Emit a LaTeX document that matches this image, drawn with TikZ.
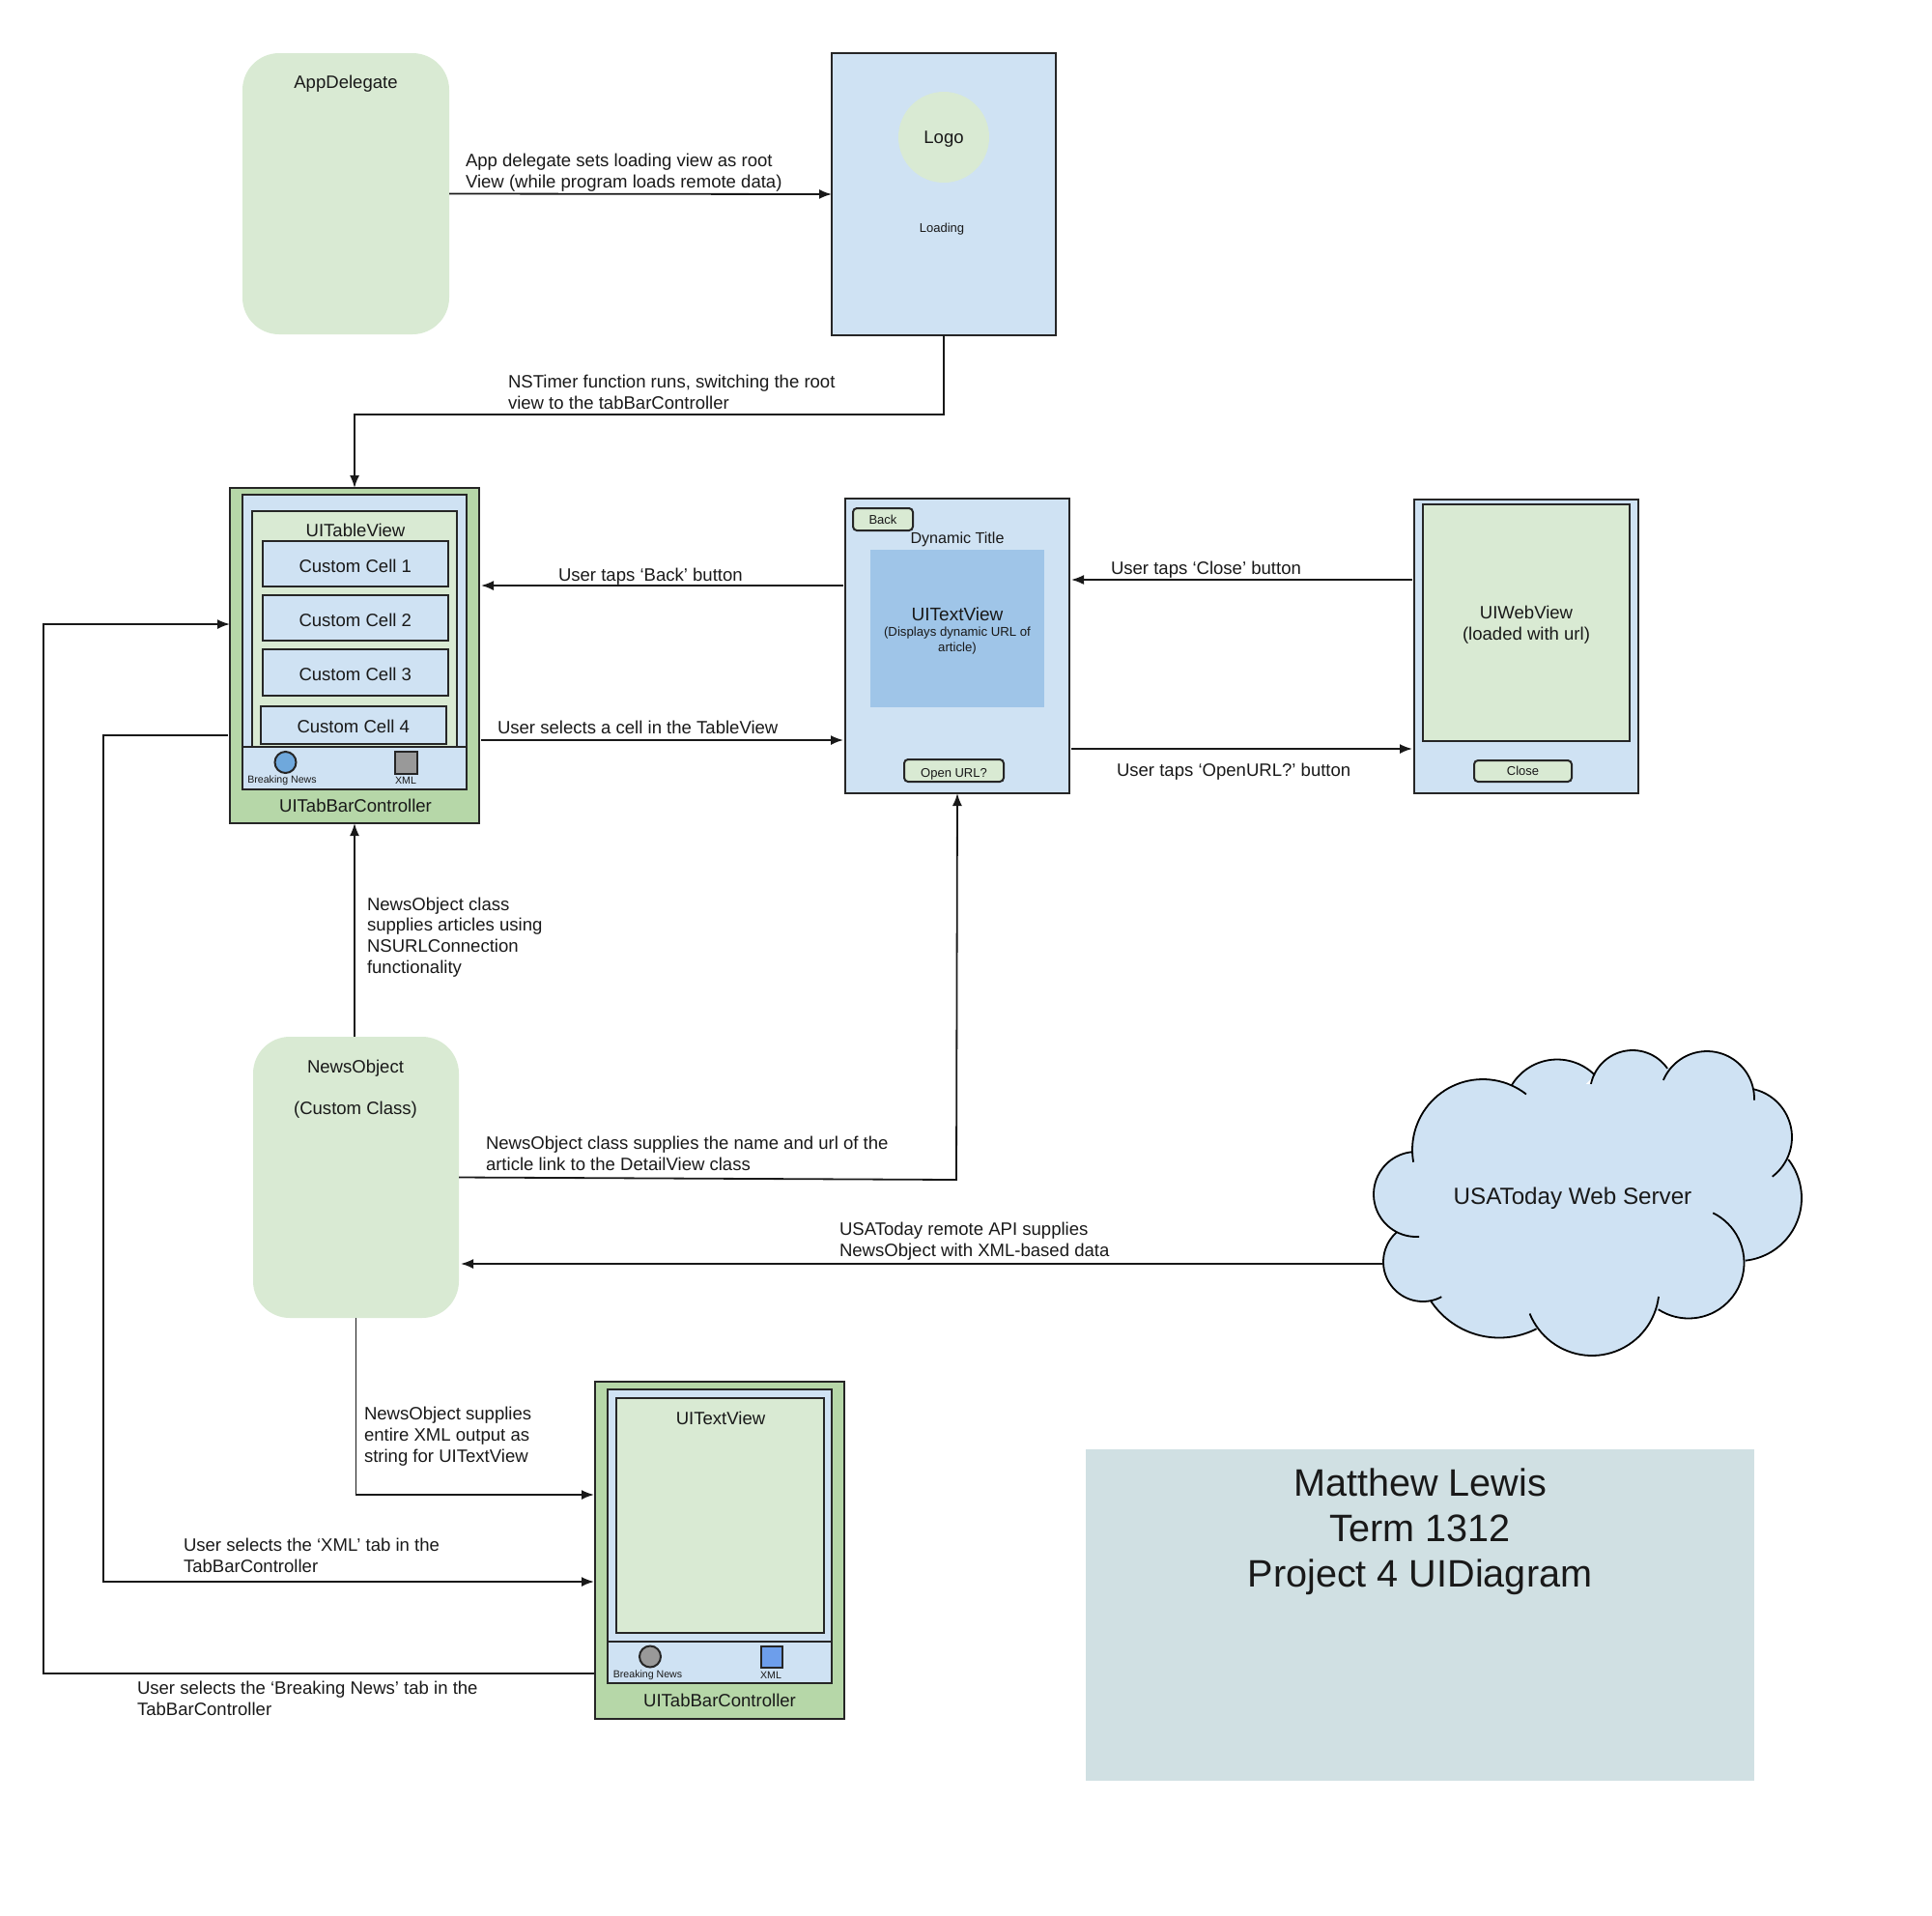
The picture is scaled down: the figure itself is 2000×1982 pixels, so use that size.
\documentclass[tikz,border=0pt]{standalone}
\usepackage{fontspec}
\setmainfont{Liberation Sans}
\usetikzlibrary{arrows.meta}

\definecolor{palegreen}{HTML}{D9EAD3}
\definecolor{midgreen}{HTML}{B6D7A8}
\definecolor{paleblue}{HTML}{CFE2F3}
\definecolor{midblue}{HTML}{9FC5E8}
\definecolor{iconblue}{HTML}{6FA8DC}
\definecolor{xmlblue}{HTML}{6D9EEB}
\definecolor{icongrey}{HTML}{999999}
\definecolor{titlegrey}{HTML}{D0E0E3}

\tikzset{
    every node/.style={inner sep=0pt, outer sep=0pt, text=black!90, font=\fontsize{18.55}{21.8}\selectfont, align=center},
    panel/.style={draw=black!85, line width=2pt, rectangle, minimum width=#1},
    cellbox/.style={panel=191.5, fill=paleblue, text height=17pt, text depth=0pt},
    button/.style={panel=#1, fill=palegreen, rounded corners=4pt, minimum height=23, font=\fontsize{13}{15}\selectfont},
    conn/.style={draw=black!90, line width=1.8pt, -{Latex[length=13pt,width=10pt]}},
    gap/.style={shorten <=2pt, shorten >=2pt},
    lbl/.style={anchor=west, align=left},
    tiny/.style={font=\fontsize{10.6}{13}\selectfont},
    smalltext/.style={font=\fontsize{13.2}{16}\selectfont},
}

\newcommand{\lobefill}[5]{\fill[paleblue] plot[domain=#4:#5, samples=40] ({#1+#3*cos(\x)},{#2+#3*sin(\x)}) -- (#1,#2) -- cycle;}
\newcommand{\lobeline}[5]{\draw[black, line width=1.8pt] plot[domain=#4:#5, samples=40] ({#1+#3*cos(\x)},{#2+#3*sin(\x)});}
\newcommand{\cloudlobes}[1]{
    #1{1535}{1190}{73}{170}{308}
    #1{1612}{1151.5}{55}{210}{315}
    #1{1690}{1131}{44}{192}{325}
    #1{1767}{1137}{49}{203}{362}
    #1{1804}{1177}{51}{283}{413}
    #1{1800}{1240}{65}{322}{444}
    #1{1748}{1307}{57.5}{296}{483}
    #1{1648}{1333.5}{69.5}{7}{158}
    #1{1552}{1299.5}{85}{63}{147}
    #1{1473}{1306}{41}{62}{228}
    #1{1466}{1236}{44}{86}{265}
}

\begin{document}
\begin{tikzpicture}[x=1pt, y=-1pt]
    \useasboundingbox (0,0) rectangle (2000,1982);

    % startup
    \node[fill=palegreen, rounded corners=38pt, minimum width=214, minimum height=291] (app) at (358,200.5) {};
    \node (apptext) at (358,87) {AppDelegate};
    \node[panel=232, fill=paleblue, minimum height=292] (loading) at (977,201) {};
    \node[circle, fill=palegreen, minimum size=94] (logo) at (977,142) {};
    \node (logotext) at (977,144) {Logo};
    \node[font=\fontsize{13}{15}\selectfont] (loadingtext) at (975,237) {Loading};

    % first tab
    \node[panel=258, fill=midgreen, minimum height=347] (taba) at (367,678.5) {};
    \node[panel=232, fill=paleblue, minimum height=305] (screena) at (367,664.5) {};
    \node[panel=212, fill=palegreen, minimum height=244] (table) at (367,651) {};
    \node (tabletext) at (368,549) {UITableView};
    \node[cellbox, minimum height=47] (cell1) at (367.75,583.5) {Custom Cell 1};
    \node[cellbox, minimum height=47] (cell2) at (367.75,639.5) {Custom Cell 2};
    \node[cellbox, minimum height=48] (cell3) at (367.75,696) {Custom Cell 3};
    \node[cellbox, minimum height=38.5] (cell4) at (365.75,750.25) {Custom Cell 4};
    \node[panel=232, fill=paleblue, minimum height=44] (bara) at (367,795) {};
    \node[circle, draw=black!85, line width=2pt, fill=iconblue, minimum size=22] (newsicona) at (295.5,789) {};
    \node[rectangle, draw=black!85, line width=2pt, fill=icongrey, minimum size=23] (xmlicona) at (420.5,789.5) {};
    \node[tiny] (newstexta) at (292,808) {Breaking News};
    \node[tiny] (xmltexta) at (420,808) {XML};
    \node (tabtexta) at (368,834) {UITabBarController};

    % detail
    \node[panel=232, fill=paleblue, minimum height=305] (detail) at (991,668.5) {};
    \node[fill=midblue, minimum width=180, minimum height=163] (textview) at (991,650.5) {};
    \node[button=62] (back) at (914,537.5) {Back};
    \node[font=\fontsize{16.1}{18}\selectfont] (dynamic) at (991,558) {Dynamic Title};
    \node[font=\fontsize{19}{22}\selectfont] (textviewtext) at (991,636) {UITextView};
    \node[smalltext] (urltext) at (991,663.5) {(Displays dynamic URL of\\article)};
    \node[button=103, text height=13pt, text depth=0pt] (openurl) at (987.5,797.5) {Open URL?};

    % web view
    \node[panel=232, fill=paleblue, minimum height=304] (web) at (1580,669) {};
    \node[panel=214, fill=palegreen, minimum height=245] (webpage) at (1580,644.5) {};
    \node (webtext) at (1580,646.5) {UIWebView\\(loaded with url)};
    \node[button=101, minimum height=22] (close) at (1576.5,798) {Close};

    % news
    \node[fill=palegreen, rounded corners=38pt, minimum width=213, minimum height=291] (news) at (368.5,1218.5) {};
    \node (newstext) at (368,1106) {NewsObject};
    \node (classtext) at (368,1149) {(Custom Class)};

    % second tab
    \node[panel=258, fill=midgreen, minimum height=349] (tabb) at (745,1604.5) {};
    \node[panel=232, fill=paleblue, minimum height=304] (screenb) at (745,1590) {};
    \node[panel=214.5, fill=palegreen, minimum height=243.5] (xmlview) at (745.25,1568.25) {};
    \node (xmlviewtext) at (746,1468) {UITextView};
    \node[panel=232, fill=paleblue, minimum height=43.5] (barb) at (745,1720.25) {};
    \node[circle, draw=black!85, line width=2pt, fill=icongrey, minimum size=22] (newsiconb) at (673,1714.5) {};
    \node[rectangle, draw=black!85, line width=2pt, fill=xmlblue, minimum size=22] (xmliconb) at (798.5,1714.5) {};
    \node[tiny] (newstextb) at (670.5,1734) {Breaking News};
    \node[tiny] (xmltextb) at (798,1734) {XML};
    \node (tabtextb) at (745,1760) {UITabBarController};

    % server
    \cloudlobes{\lobefill}
    \fill[paleblue] (1462,1192) -- (1565,1124) -- (1648,1122) -- (1727,1105) -- (1815,1127) -- (1851,1200) -- (1807,1307) -- (1715,1357) -- (1590,1375) -- (1482,1345) -- (1443,1273) -- cycle;
    \cloudlobes{\lobeline}
    \node[font=\fontsize{24.2}{26}\selectfont] (server) at (1628,1240) {USAToday Web Server};
    \coordinate (serveredge) at (1432,1308);

    % name box
    \node[fill=titlegrey, minimum width=692, minimum height=343] (title) at (1470,1671.5) {};
    \node[font=\fontsize{39.6}{47}\selectfont] (titletext) at (1470,1585.5) {Matthew Lewis\\Term 1312\\Project 4 UIDiagram};

    % heights where the side connectors leave
    \coordinate (backport) at (0,606);
    \coordinate (selectport) at (0,766);
    \coordinate (closeport) at (0,600);
    \coordinate (openport) at (0,775);
    \coordinate (leftport) at (0,646);
    \coordinate (xmlport) at (0,761);
    \coordinate (xmlin) at (0,1637);
    \coordinate (newsin) at (0,1547);
    \coordinate (newsport) at (0,1732);
    \coordinate (newsbend) at (990,1221);
    \coordinate (timerbend) at (977,429);
    \coordinate (xmlbend) at (107,761);
    \coordinate (newsback) at (45,1732);

    \draw[conn] (app.east) -- (loading.west);
    \draw[conn] (loading.south) -- (timerbend) -| (taba.north);
    \draw[conn, gap] (detail.west |- backport) -- (taba.east |- backport);
    \draw[conn, gap] (taba.east |- selectport) -- (detail.west |- selectport);
    \draw[conn, gap] (web.west |- closeport) -- (detail.east |- closeport);
    \draw[conn, gap] (detail.east |- openport) -- (web.west |- openport);
    \draw[conn] (news.north -| taba.south) -- (taba.south);
    \draw[conn] (news.east) -- (newsbend) -- (detail.south);
    \draw[conn, shorten >=2pt] (serveredge) -- (news.east |- serveredge);
    \draw[conn, shorten >=1pt] (news.south) |- (tabb.west |- newsin);
    \draw[conn, shorten <=2pt, shorten >=1pt] (taba.west |- xmlport) -- (xmlbend) |- (tabb.west |- xmlin);
    \draw[conn, shorten <=1pt] (tabb.west |- newsport) -- (newsback) |- (taba.west |- leftport);

    \node[lbl] (note1) at (482,178.5) {App delegate sets loading view as root\\View (while program loads remote data)};
    \node[lbl] (note2) at (526,406) {NSTimer function runs, switching the root\\view to the tabBarController};
    \node[lbl] (note3) at (578,596.5) {User taps ‘Back’ button};
    \node[lbl] (note4) at (515,753) {User selects a cell in the TableView};
    \node[lbl] (note5) at (1150,590) {User taps ‘Close’ button};
    \node[lbl] (note6) at (1156,799) {User taps ‘OpenURL?’ button};
    \node[lbl] (note7) at (380,970) {NewsObject class\\supplies articles using\\NSURLConnection\\functionality};
    \node[lbl] (note8) at (503,1194) {NewsObject class supplies the name and url of the\\article link to the DetailView class};
    \node[lbl] (note9) at (869,1285) {USAToday remote API supplies\\NewsObject with XML-based data};
    \node[lbl] (note10) at (377,1486.5) {NewsObject supplies\\entire XML output as\\string for UITextView};
    \node[lbl] (note11) at (190,1610) {User selects the ‘XML’ tab in the\\TabBarController};
    \node[lbl] (note12) at (142,1758) {User selects the ‘Breaking News’ tab in the\\TabBarController};
\end{tikzpicture}
\end{document}
